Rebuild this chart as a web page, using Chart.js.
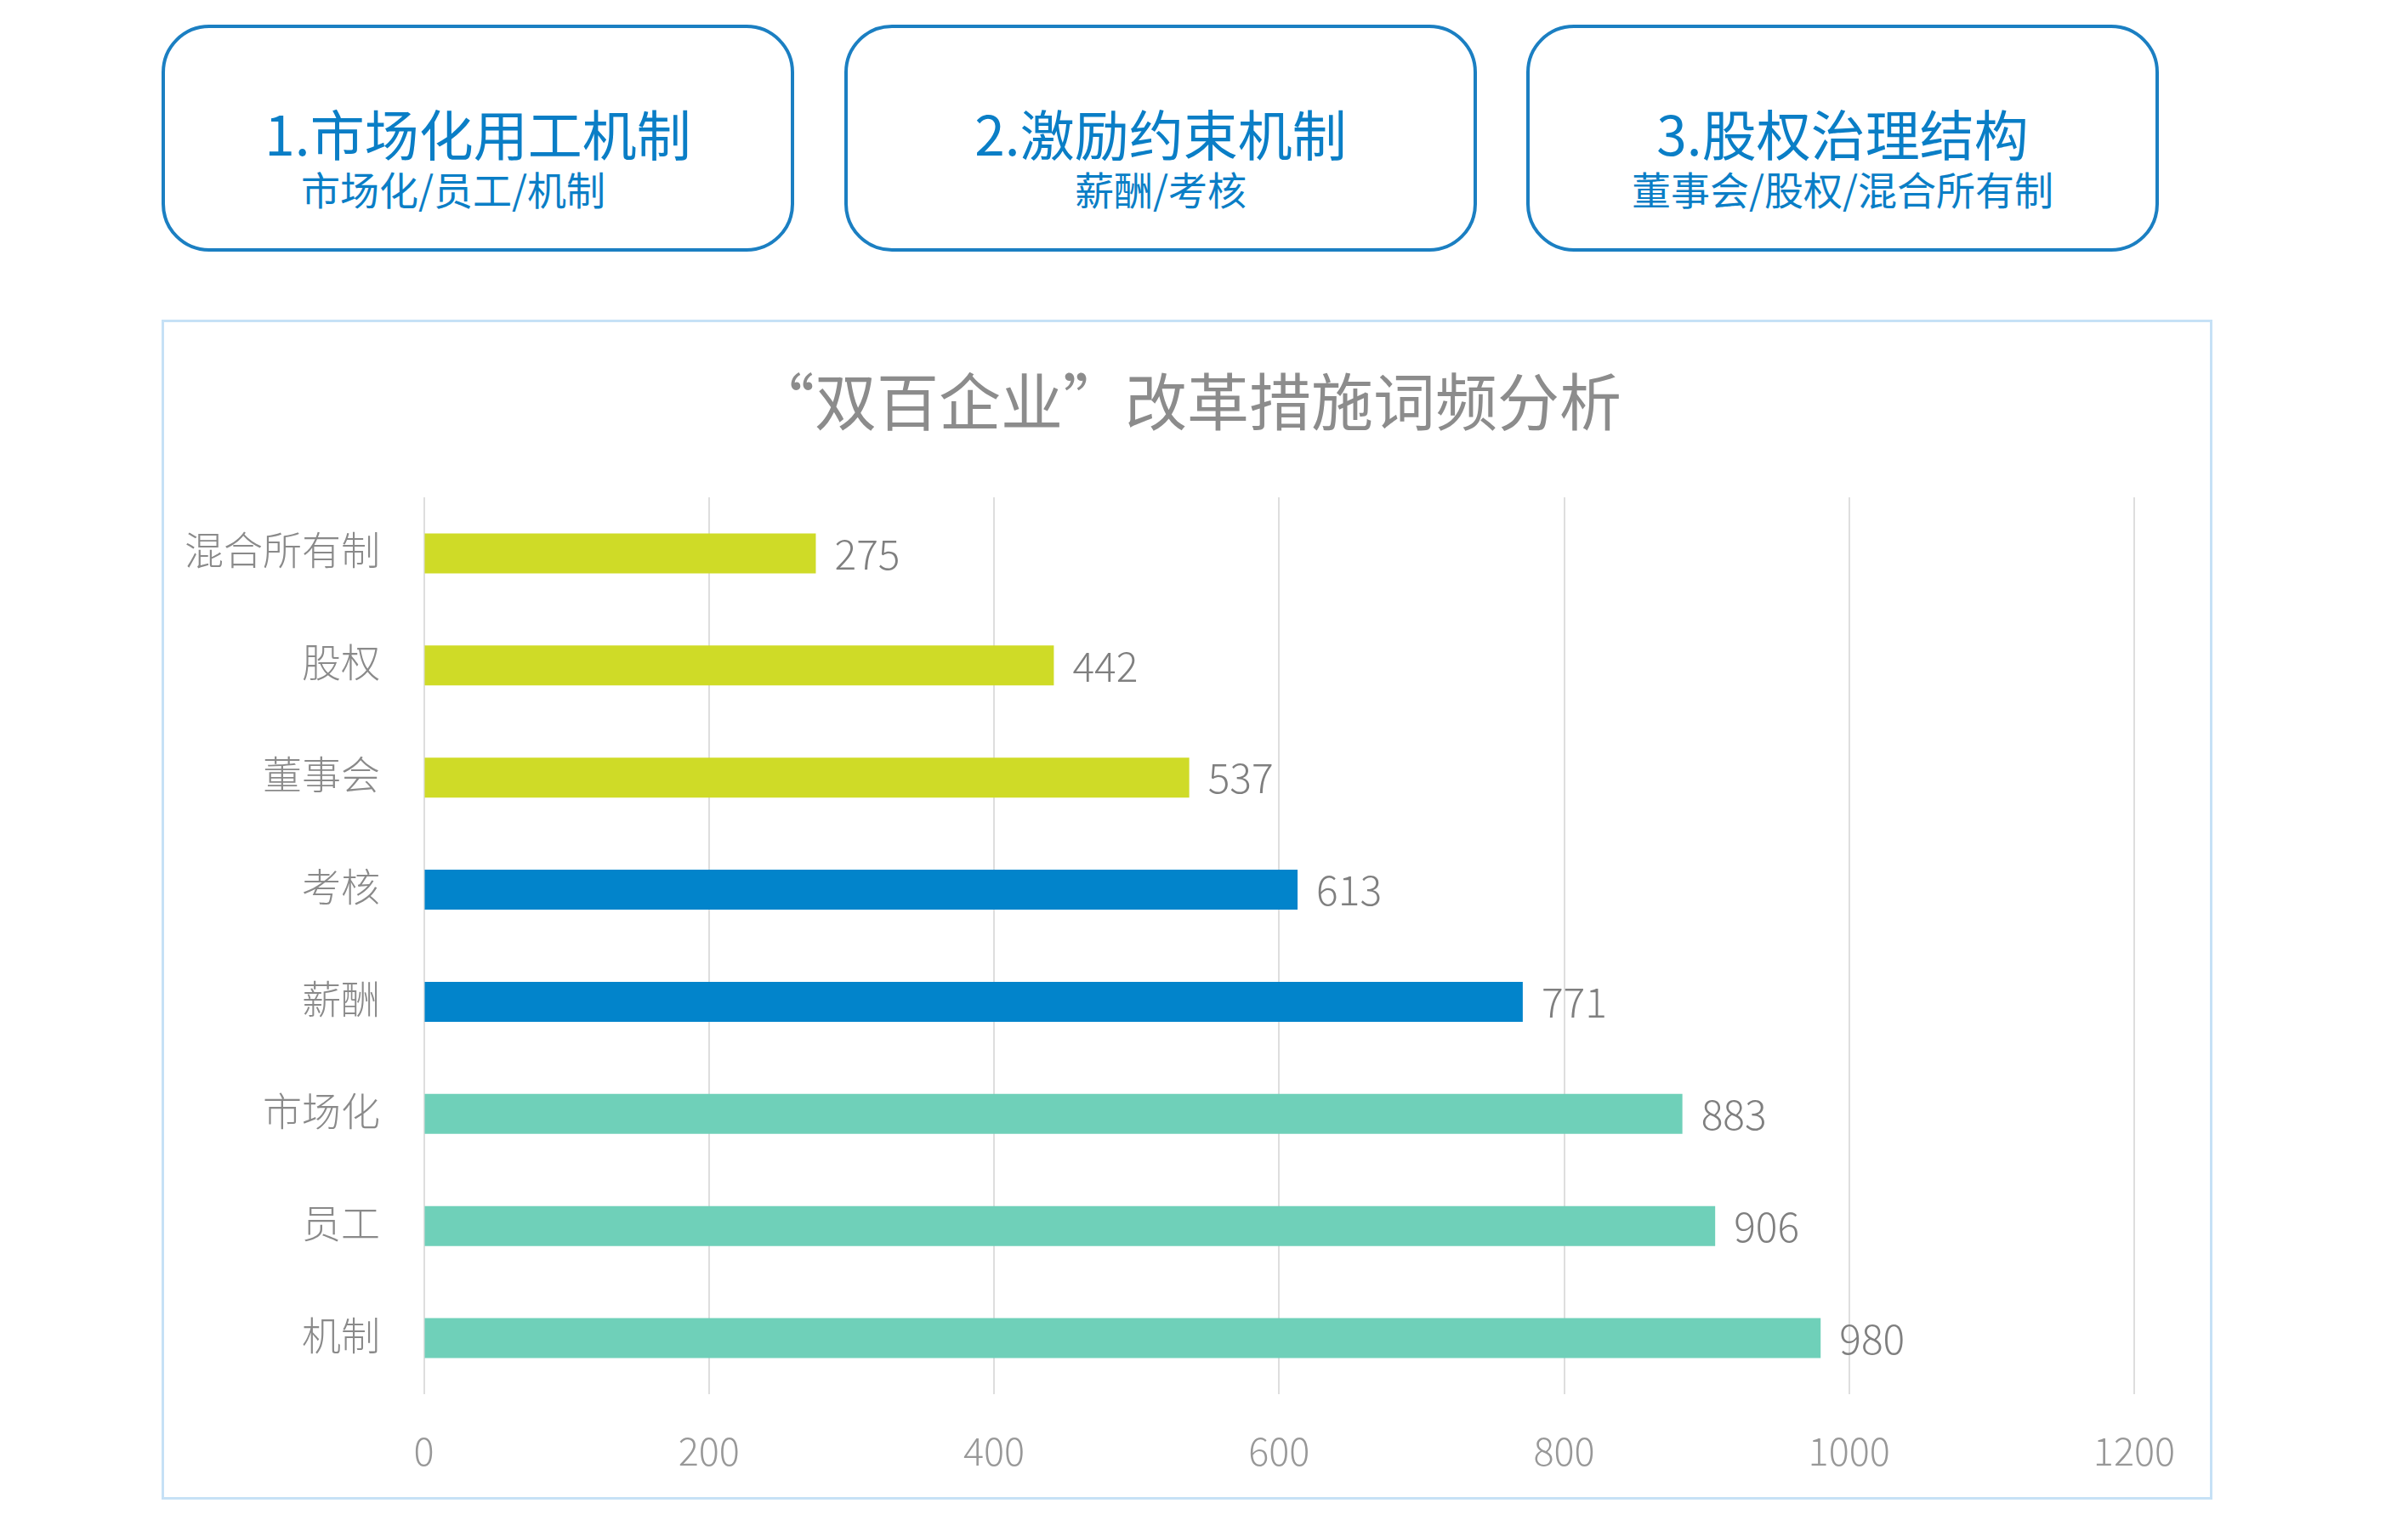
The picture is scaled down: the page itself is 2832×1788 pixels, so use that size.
<!DOCTYPE html>
<html>
<head>
<meta charset="utf-8">
<script src="https://cdn.jsdelivr.net/npm/chart.js@4.4.1/dist/chart.umd.min.js"></script>
<style>
  html, body { margin: 0; padding: 0; background: #ffffff; }
  body { width: 2832px; height: 1788px; position: relative; overflow: hidden;
         font-family: "Noto Sans CJK SC", "Noto Sans", sans-serif; }
  .box { position: absolute; top: 29px; width: 744px; height: 267px; box-sizing: border-box;
         border: 4px solid #1b7fc2; border-radius: 56px; }
  .t1, .t2 { position: absolute; left: 0; width: 100%; text-align: center; color: #0a7ec6; white-space: nowrap; }
  .t1 { font-size: 64px; line-height: 64px; top: 90px; }
  .t2 { font-size: 46px; line-height: 46px; top: 165px; }
  #panel { position: absolute; left: 190px; top: 376px; width: 2412px; height: 1388px; box-sizing: border-box;
           border: 3px solid #c6e1f6; }
  #title { position: absolute; left: 190px; width: 2412px; top: 432px; text-align: center;
           font-size: 73px; line-height: 73px; color: #8c8c8c; white-space: nowrap; }
  #c { position: absolute; left: 190px; top: 376px; }
</style>
</head>
<body>
<div class="box" style="left:190px"><div class="t1">1.市场化用工机制</div><div class="t2" style="left:-29px">市场化/员工/机制</div></div>
<div class="box" style="left:993px"><div class="t1">2.激励约束机制</div><div class="t2">薪酬/考核</div></div>
<div class="box" style="left:1795px"><div class="t1">3.股权治理结构</div><div class="t2">董事会/股权/混合所有制</div></div>
<div id="panel"></div>
<div id="title"></div>
<canvas id="c" width="2412" height="1388"></canvas>
<script>
const chartTitle = '“双百企业”改革措施词频分析';
const categories = ['混合所有制', '股权', '董事会', '考核', '薪酬', '市场化', '员工', '机制'];
const values = [275, 442, 537, 613, 771, 883, 906, 980];
const barColors = ['#cfdb27', '#cfdb27', '#cfdb27', '#0284cb', '#0284cb', '#6fd0b9', '#6fd0b9', '#6fd0b9'];
const xTicks = [0, 200, 400, 600, 800, 1000, 1200];

document.getElementById('title').textContent = chartTitle;

const FONT = '"Noto Sans CJK SC", "Noto Sans", sans-serif';

const valueLabels = {
  id: 'valueLabels',
  afterDatasetsDraw(chart) {
    const ctx = chart.ctx;
    const meta = chart.getDatasetMeta(0);
    ctx.save();
    ctx.font = '300 48px ' + FONT;
    ctx.fillStyle = '#7f7f7f';
    ctx.textAlign = 'left';
    ctx.textBaseline = 'middle';
    meta.data.forEach((bar, i) => {
      ctx.fillText(String(values[i]), bar.x + 22, bar.y + 0.5);
    });
    ctx.restore();
  }
};

new Chart(document.getElementById('c'), {
  type: 'bar',
  data: {
    labels: categories,
    datasets: [{
      data: values,
      backgroundColor: barColors,
      borderWidth: 0,
      barPercentage: 0.356,
      categoryPercentage: 1.0
    }]
  },
  options: {
    indexAxis: 'y',
    responsive: false,
    animation: false,
    layout: { padding: { left: 0, right: 92, top: 209, bottom: 0 } },
    plugins: {
      legend: { display: false },
      tooltip: { enabled: false },
      title: { display: false }
    },
    scales: {
      x: {
        type: 'linear',
        min: 0,
        max: 1200,
        afterBuildTicks(scale) { scale.ticks = xTicks.map(v => ({ value: v })); },
        afterFit(scale) { scale.height = 124; },
        grid: { color: '#dedede', lineWidth: 2, drawTicks: false },
        border: { display: false },
        ticks: {
          color: '#989898', padding: 40,
          font: { family: FONT, size: 45, weight: 300, lineHeight: 1.2 },
          callback: (v) => String(v)
        }
      },
      y: {
        afterFit(scale) { scale.width = 308.5; },
        grid: { display: false, drawTicks: false },
        border: { display: false },
        ticks: { color: '#8a8a8a', padding: 51.5, labelOffset: -4, font: { family: FONT, size: 46, weight: 300, lineHeight: 1.2 } }
      }
    }
  },
  plugins: [valueLabels]
});
</script>
</body>
</html>
